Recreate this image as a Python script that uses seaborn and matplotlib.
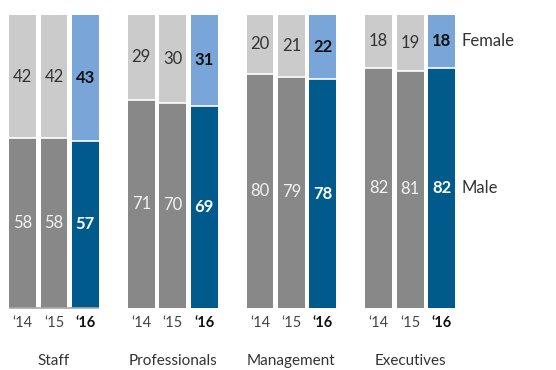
import matplotlib
matplotlib.use("Agg")
import matplotlib.pyplot as plt
import seaborn as sns
import pandas as pd

# Share of women and men by job level, per year (percent)
groups = ["Staff", "Professionals", "Management", "Executives"]
years = ["\u201814", "\u201815", "\u201816"]
female = [[42, 42, 43], [29, 30, 31], [20, 21, 22], [18, 19, 18]]
male = [[58, 58, 57], [71, 70, 69], [80, 79, 78], [82, 81, 82]]

rows = []
for g, grp in enumerate(groups):
    for y, yr in enumerate(years):
        rows.append({"group": grp, "year": yr,
                     "female": female[g][y], "male": male[g][y],
                     "total": female[g][y] + male[g][y]})
df = pd.DataFrame(rows)

female_colors = {years[0]: "#cbcbcb", years[1]: "#cbcbcb", years[2]: "#7aa5d8"}
male_colors = {years[0]: "#888888", years[1]: "#888888", years[2]: "#005a8c"}

sns.set_theme(style="white")
plt.rcParams["font.family"] = ["Lato", "DejaVu Sans"]

fig = plt.figure(figsize=(5.56, 3.70), dpi=100)
ax = fig.add_axes([0, 62 / 370, 1, 293 / 370])

common = dict(x="group", hue="year", order=groups, hue_order=years,
              width=0.794, gap=0.143, saturation=1, legend=False,
              errorbar=None, linewidth=0, edgecolor="none", ax=ax)
sns.barplot(data=df, y="total", palette=female_colors, **common)
sns.barplot(data=df, y="male", palette=male_colors, **common)

ax.set_xlim(-0.455, 4.229)
ax.set_ylim(0, 100)
ax.set_axis_off()

n = len(years)
for h, yr in enumerate(years):
    tot_bars = ax.containers[h].patches
    male_bars = ax.containers[n + h].patches
    bold = (h == n - 1)
    for g, (pt, pm) in enumerate(zip(tot_bars, male_bars)):
        x0 = pm.get_x()
        w = pm.get_width()
        cx = x0 + w / 2
        m = pm.get_height()
        t = pt.get_height()
        # separator between the two stacked segments
        ax.hlines(m, x0, x0 + w, color="white", lw=1.2, zorder=3)
        ax.text(cx, m / 2, f"{male[g][h]}", ha="center", va="center",
                fontsize=12, color="white" if bold else "#f2f2f2",
                fontweight="bold" if bold else "normal", zorder=4)
        ax.text(cx, m + (t - m) / 2, f"{female[g][h]}", ha="center", va="center",
                fontsize=12, color="#111111" if bold else "#333333",
                fontweight="bold" if bold else "normal", zorder=4)
        ax.annotate(yr, xy=(cx, 0), xytext=(0, -15), textcoords="offset pixels",
                    ha="center", va="center", fontsize=10.5,
                    color="#111111" if bold else "#444444",
                    fontweight="bold" if bold else "normal",
                    annotation_clip=False)

# category names below each trio of bars
for g, grp in enumerate(groups):
    ax.annotate(grp, xy=(g, 0), xytext=(0, -53), textcoords="offset pixels",
                ha="center", va="center", fontsize=11, color="#333333",
                annotation_clip=False)

# baseline under the first group
staff_left = ax.containers[n].patches[0]
staff_right = ax.containers[2 * n - 1].patches[0]
ax.hlines(0, staff_left.get_x(), staff_right.get_x() + staff_right.get_width(),
          color="#a8a8a8", lw=1.2, clip_on=False, zorder=5)

# series labels beside the last bar
last_tot = ax.containers[n - 1].patches[-1]
last_male = ax.containers[2 * n - 1].patches[-1]
right_edge = last_male.get_x() + last_male.get_width()
m_last = last_male.get_height()
t_last = last_tot.get_height()
ax.annotate("Female", xy=(right_edge, m_last + (t_last - m_last) / 2),
            xytext=(7, 0), textcoords="offset pixels", ha="left", va="center",
            fontsize=12, color="#333333", annotation_clip=False)
ax.annotate("Male", xy=(right_edge, m_last / 2),
            xytext=(7, 0), textcoords="offset pixels", ha="left", va="center",
            fontsize=12, color="#333333", annotation_clip=False)

fig.savefig("out.png", dpi=100)
